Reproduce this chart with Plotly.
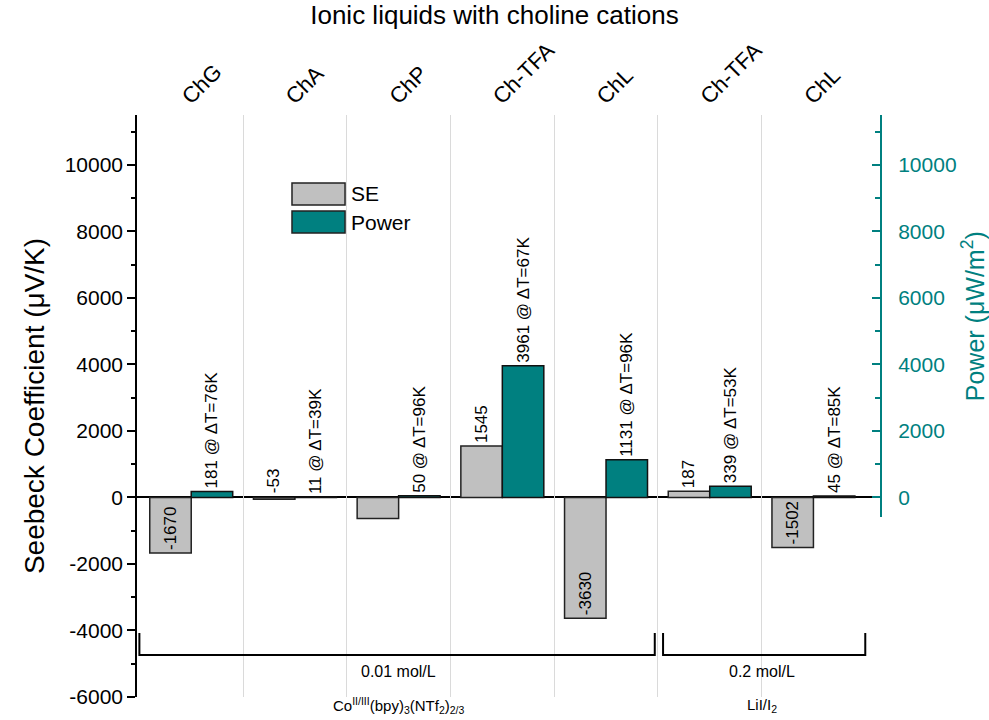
import plotly.graph_objects as go

# ---------------- data ----------------
categories = ["ChG", "ChA", "ChP", "Ch-TFA", "ChL", "Ch-TFA", "ChL"]
se_values = [-1670, -53, -630, 1545, -3630, 187, -1502]
se_labels = ["-1670", "-53", "", "1545", "-3630", "187", "-1502"]
se_label_mode = ["inside", "above", "none", "outside", "inside", "outside", "inside"]
power_values = [181, 11, 50, 3961, 1131, 339, 45]
delta_t = [76, 39, 96, 67, 96, 53, 85]

groups = ["0.01 mol/L", "0.2 mol/L"]
group_first = [0, 5]
group_last = [4, 6]
group_redox = ["Co<sup>II/III</sup>(bpy)<sub>3</sub>(NTf<sub>2</sub>)<sub>2/3</sub>",
               "LiI/I<sub>2</sub>"]

y_ticks = [-6000, -4000, -2000, 0, 2000, 4000, 6000, 8000, 10000]
y2_ticks = [0, 2000, 4000, 6000, 8000, 10000]

# ---------------- style ----------------
FONT = "Liberation Sans, Arial, sans-serif"
TEAL = "#008080"
GREY = "#C0C0C0"
Y_MIN, Y_MAX = -6000, 11500
Y2_MIN = -601
X_RANGE = [-0.523, 6.642]
BAR_W = 0.4

xs = list(range(len(categories)))
n = len(categories)
power_text = [f"{p} @ ΔT={d}K" for p, d in zip(power_values, delta_t)]

fig = go.Figure()

fig.add_trace(go.Bar(
    x=xs, y=se_values, name="SE", width=BAR_W, offset=-BAR_W,
    marker=dict(color=GREY, line=dict(color="#222222", width=1.5)),
    text=se_labels,
    textposition=["inside" if m == "inside" else ("outside" if m == "outside" else "none")
                  for m in se_label_mode],
    textangle=-90, insidetextanchor="end", constraintext="none",
    textfont=dict(family=FONT, size=17, color="black"),
    cliponaxis=False, showlegend=False, yaxis="y",
))

fig.add_trace(go.Bar(
    x=xs, y=power_values, name="Power", width=BAR_W, offset=0,
    marker=dict(color=TEAL, line=dict(color="#111111", width=1.5)),
    text=power_text, textposition="outside", textangle=-90, constraintext="none",
    textfont=dict(family=FONT, size=17, color="black"),
    cliponaxis=False, showlegend=False, yaxis="y2",
))

annotations = []
# labels above zero for small negative SE values
for i, (v, lab, m) in enumerate(zip(se_values, se_labels, se_label_mode)):
    if m == "above":
        annotations.append(dict(x=i - BAR_W / 2, y=0, xref="x", yref="y", text=lab,
                                textangle=-90, showarrow=False, yanchor="bottom",
                                yshift=2, font=dict(family=FONT, size=17, color="black")))

shapes = []
# group brackets
BR_LOW, BR_HIGH = -4735, -4074
for g, f, l, redox in zip(groups, group_first, group_last, group_redox):
    x0 = f - 0.5 + (0.05 if f > 0 else 0.0)
    x1 = l + 0.5 - (0.03 if l < n - 1 else 0.0)
    shapes.append(dict(type="path", xref="x", yref="y",
                       path=f"M {x0},{BR_HIGH} L {x0},{BR_LOW} L {x1},{BR_LOW} L {x1},{BR_HIGH}",
                       line=dict(color="black", width=2)))
    xc = (f + l) / 2
    annotations.append(dict(x=xc, y=-5240, xref="x", yref="y", text=g, showarrow=False,
                            font=dict(family=FONT, size=16, color="black")))
    annotations.append(dict(x=xc, y=-0.014, xref="x", yref="paper", text=redox,
                            showarrow=False, yanchor="middle",
                            font=dict(family=FONT, size=15, color="black")))

# custom legend
legend_items = [("SE", GREY, 0.8454, 0.8832), ("Power", TEAL, 0.7973, 0.835)]
for name, col, y0, y1 in legend_items:
    shapes.append(dict(type="rect", xref="paper", yref="paper", x0=0.2086, x1=0.28,
                       y0=y0, y1=y1, fillcolor=col, line=dict(color="#222222", width=1.5)))
    annotations.append(dict(x=0.286, y=(y0 + y1) / 2, xref="paper", yref="paper", text=name,
                            showarrow=False, xanchor="left", yanchor="middle",
                            font=dict(family=FONT, size=21, color="black")))

y2_dom0 = (Y2_MIN - Y_MIN) / (Y_MAX - Y_MIN)

fig.update_layout(
    width=989, height=720,
    margin=dict(l=137, r=109, t=115, b=23, autoexpand=False),
    paper_bgcolor="white", plot_bgcolor="rgba(0,0,0,0)",
    font=dict(family=FONT, color="black"),
    title=dict(text="Ionic liquids with choline cations", x=0.5, xanchor="center",
               y=0.979, yanchor="middle", font=dict(family=FONT, size=26, color="black")),
    barmode="overlay",
    showlegend=False,
    xaxis=dict(range=X_RANGE, side="top", tickvals=xs, ticktext=categories, tickangle=-45,
               ticks="", showline=False, showgrid=False, zeroline=False, automargin=False,
               ticklabelshift=-8, ticklabelstandoff=1,
               tickfont=dict(family=FONT, size=22, color="black"),
               minor=dict(tickvals=[i + 0.5 for i in xs[:-1]], showgrid=True,
                          gridcolor="#dadada", gridwidth=1, ticks="")),
    yaxis=dict(range=[Y_MIN, Y_MAX], tickvals=y_ticks, ticktext=[str(v) for v in y_ticks],
               ticks="outside", ticklen=8, tickwidth=1.5, tickcolor="black", automargin=False,
               minor=dict(dtick=1000, tick0=0, ticks="outside", ticklen=4, tickwidth=1.5,
                          tickcolor="black", showgrid=False),
               showline=True, linecolor="black", linewidth=1.5, showgrid=False,
               zeroline=True, zerolinecolor="black", zerolinewidth=2,
               tickfont=dict(family=FONT, size=21, color="black"),
               title=dict(text="Seebeck Coefficient (μV/K)", standoff=12,
                          font=dict(family=FONT, size=28, color="black"))),
    yaxis2=dict(range=[Y2_MIN, Y_MAX], domain=[y2_dom0, 1], anchor="x", side="right",
                tickvals=y2_ticks, ticktext=[str(v) for v in y2_ticks], automargin=False,
                ticks="inside", ticklen=8, tickwidth=2, tickcolor=TEAL,
                minor=dict(dtick=1000, tick0=0, ticks="inside", ticklen=5, tickwidth=2,
                           tickcolor=TEAL, showgrid=False),
                showline=True, linecolor=TEAL, linewidth=2, showgrid=False, zeroline=False,
                ticklabelstandoff=12,
                tickfont=dict(family=FONT, size=21, color=TEAL),
                title=dict(text="Power (μW/m<sup>2</sup>)", standoff=14,
                           font=dict(family=FONT, size=25, color=TEAL))),
    shapes=shapes,
    annotations=annotations,
)

fig.write_html("out.html", config={"displayModeBar": False},
               post_script="document.body.style.margin='0px';")
